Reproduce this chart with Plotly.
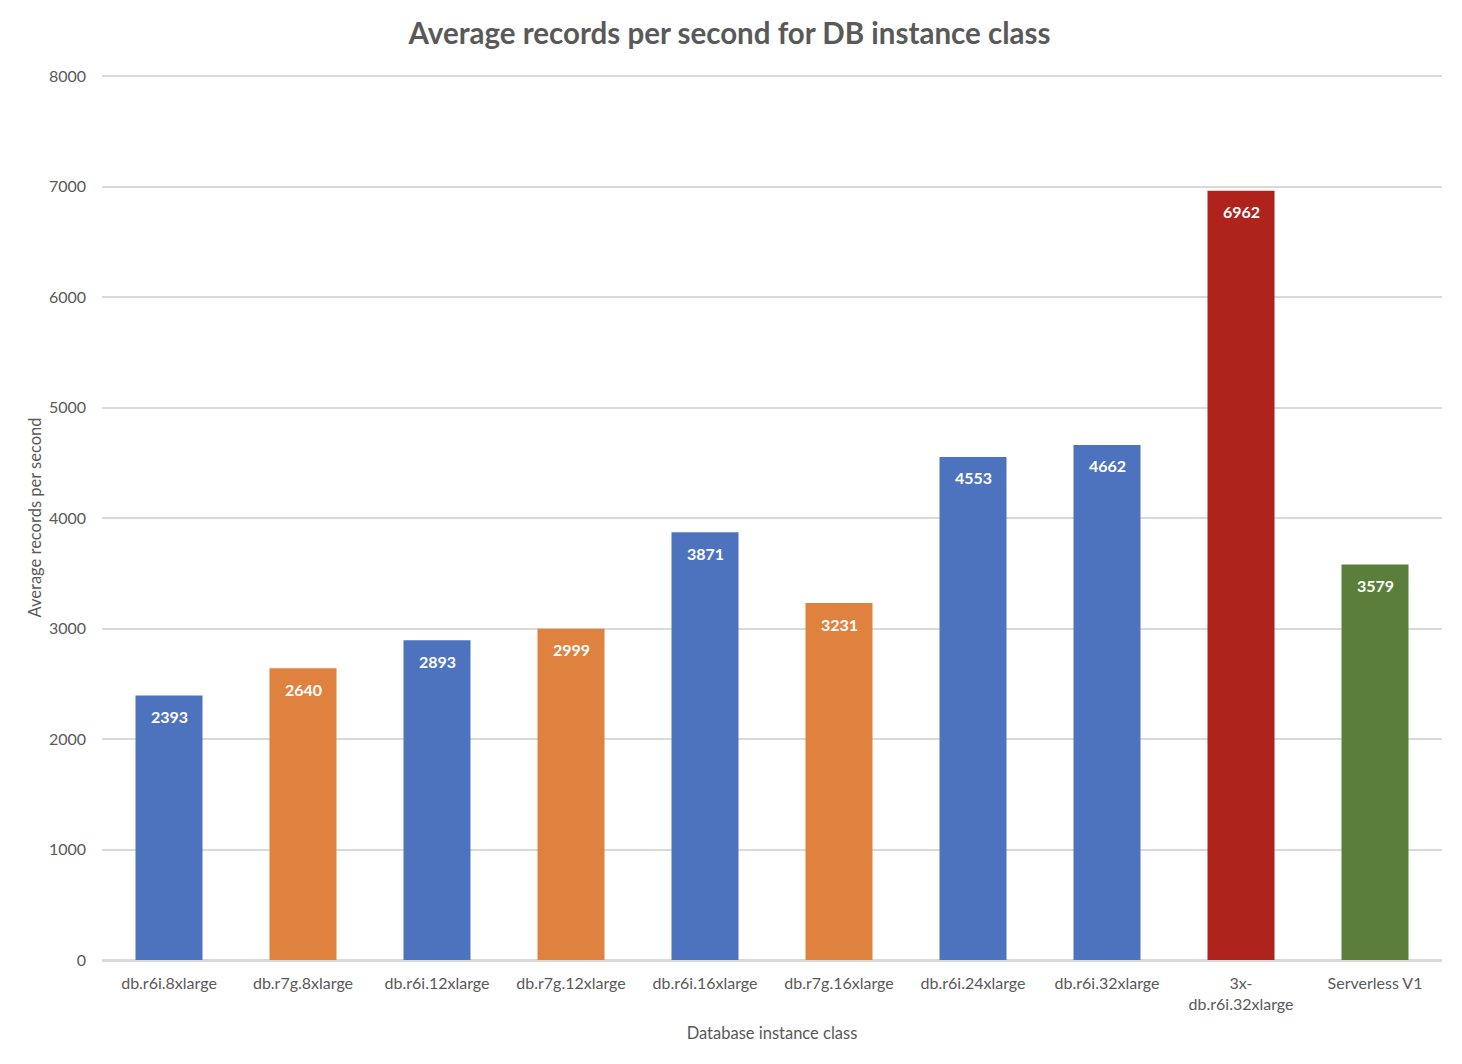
import plotly.graph_objects as go

# data
classes = [
    "db.r6i.8xlarge", "db.r7g.8xlarge", "db.r6i.12xlarge", "db.r7g.12xlarge",
    "db.r6i.16xlarge", "db.r7g.16xlarge", "db.r6i.24xlarge", "db.r6i.32xlarge",
    "3x-<br>db.r6i.32xlarge", "Serverless V1",
]
records = [2393, 2640, 2893, 2999, 3871, 3231, 4553, 4662, 6962, 3579]
colors = [
    "#4E73BE", "#E0823F", "#4E73BE", "#E0823F", "#4E73BE",
    "#E0823F", "#4E73BE", "#4E73BE", "#AE231B", "#5B7F3B",
]
y_ticks = [0, 1000, 2000, 3000, 4000, 5000, 6000, 7000, 8000]

fig = go.Figure(
    go.Bar(
        x=classes,
        y=records,
        marker=dict(color=colors, line=dict(width=0)),
        hoverinfo="x+y",
    )
)

# value labels near the top of each bar
for c, v in zip(classes, records):
    fig.add_annotation(
        x=c, y=v, text=f"<b>{v}</b>", showarrow=False,
        yanchor="middle", yshift=-21,
        font=dict(color="white", size=16, family="Lato"),
    )

fig.update_layout(
    width=1462,
    height=1064,
    paper_bgcolor="white",
    plot_bgcolor="white",
    font=dict(family="Lato", color="#595959", size=16),
    title=dict(
        text="<b>Average records per second for DB instance class</b>",
        x=0.4935, xanchor="center", y=0.986, yanchor="top",
        font=dict(size=29.5, color="#595959"),
    ),
    margin=dict(l=94, r=28, t=67, b=112),
    bargap=0.5,
    showlegend=False,
    xaxis=dict(
        title=dict(text="Database instance class", font=dict(size=16.5), standoff=16),
        showline=True, linecolor="#D9D9D9", linewidth=1.5,
        ticks="", ticklabelstandoff=8, tickfont=dict(size=16),
    ),
    yaxis=dict(
        title=dict(text="Average records per second", font=dict(size=16.5), standoff=3),
        range=[0, 8010], tickvals=y_ticks,
        showgrid=True, gridcolor="#D9D9D9", gridwidth=1.5,
        zeroline=True, zerolinecolor="#D9D9D9", zerolinewidth=1.5,
        ticks="", ticklabelstandoff=15, tickfont=dict(size=16),
    ),
)

fig.write_html("out.html")
